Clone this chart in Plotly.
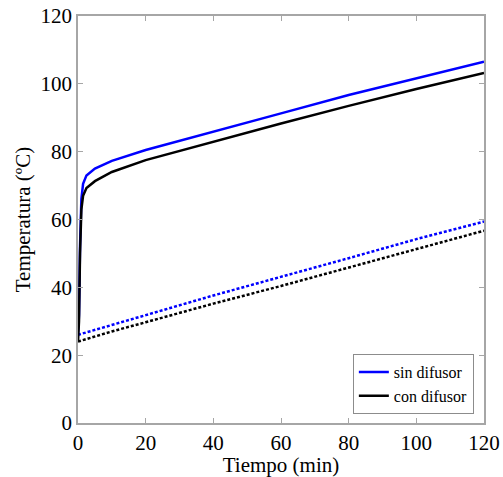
import plotly.graph_objects as go

# datos (tiempo en min, temperatura en ºC)
t_solid = [0, 0.3, 0.6, 1.0, 1.5, 2.5, 5, 10, 20, 40, 60, 80, 100, 120]
sin_difusor = [26, 32, 52, 66, 70.5, 73, 75, 77.3, 80.5, 86, 91.3, 96.7, 101.7, 106.5]
con_difusor = [24, 30, 50, 63, 67, 69.3, 71.3, 74, 77.5, 83, 88.3, 93.5, 98.5, 103.2]

t_dot = [0, 10, 20, 40, 60, 80, 100, 120]
sin_difusor_dot = [26, 29, 31.8, 37.6, 43, 48.6, 54.2, 59.4]
con_difusor_dot = [24, 27, 29.7, 35.2, 40.4, 45.9, 51.3, 56.7]

fig = go.Figure()
fig.add_trace(go.Scatter(x=t_dot, y=sin_difusor_dot, mode='lines', showlegend=False,
                         line=dict(color='#0000ff', width=2.5, dash='3px,2px')))
fig.add_trace(go.Scatter(x=t_dot, y=con_difusor_dot, mode='lines', showlegend=False,
                         line=dict(color='black', width=2.5, dash='3px,2px')))
fig.add_trace(go.Scatter(x=t_solid, y=sin_difusor, mode='lines', name='sin difusor',
                         line=dict(color='#0000ff', width=2.5)))
fig.add_trace(go.Scatter(x=t_solid, y=con_difusor, mode='lines', name='con difusor',
                         line=dict(color='black', width=2.5)))

axis_style = dict(showgrid=False, zeroline=False, showline=True, linecolor='#a6a6a6', linewidth=1.5,
                  mirror='ticks', ticks='inside', ticklen=5, tickcolor='#a6a6a6', dtick=20,
                  tickfont=dict(size=21, color='black'), automargin=False)

fig.update_xaxes(range=[0, 120], title=dict(text='Tiempo (min)', font=dict(size=21, color='black'), standoff=0),
                 **axis_style)
fig.update_yaxes(range=[0, 120], title=dict(text='Temperatura (ºC)', font=dict(size=21, color='black'), standoff=4),
                 **axis_style)

fig.update_layout(width=503, height=477, margin=dict(l=78, r=19, t=16, b=54),
                  plot_bgcolor='white', paper_bgcolor='white',
                  font=dict(family='Liberation Serif', color='black'),
                  legend=dict(x=0.975, y=0.022, xanchor='right', yanchor='bottom',
                              bordercolor='#8c8c8c', borderwidth=1, bgcolor='white',
                              font=dict(size=16), tracegroupgap=0, itemwidth=30))

# quitar el margen de 8px del body para que la figura ocupe toda la ventana
fig.write_html("out.html", config={'displayModeBar': False},
               post_script="document.body.style.margin='0';")
